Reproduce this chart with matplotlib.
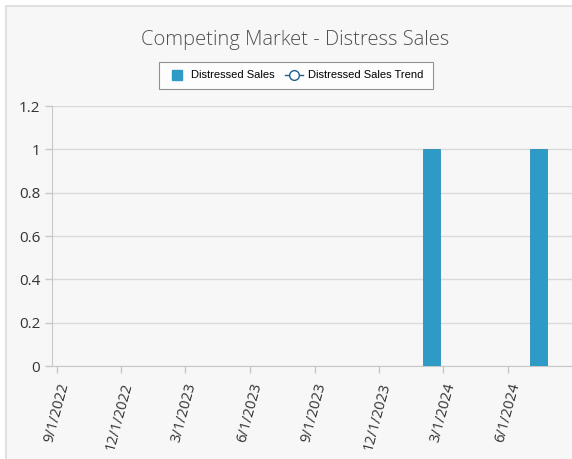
import pandas as pd
import matplotlib.pyplot as plt
from matplotlib.patches import Rectangle
from matplotlib.lines import Line2D

# Monthly data
months = ['2022-09', '2022-10', '2022-11', '2022-12', '2023-01', '2023-02',
          '2023-03', '2023-04', '2023-05', '2023-06', '2023-07', '2023-08',
          '2023-09', '2023-10', '2023-11', '2023-12', '2024-01', '2024-02',
          '2024-03', '2024-04', '2024-05', '2024-06', '2024-07', '2024-08']
distressed_sales = [0, 0, 0, 0, 0, 0, 0, 0, 0, 0, 0, 0,
                    0, 0, 0, 0, 0, 1, 0, 0, 0, 0, 1, 0]
tick_dates = ['2022-09-01', '2022-12-01', '2023-03-01', '2023-06-01',
              '2023-09-01', '2023-12-01', '2024-03-01', '2024-06-01']
tick_labels = ['9/1/2022', '12/1/2022', '3/1/2023', '6/1/2023',
               '9/1/2023', '12/1/2023', '3/1/2024', '6/1/2024']
y_ticks = [0, 0.2, 0.4, 0.6, 0.8, 1, 1.2]
y_labels = ['0', '0.2', '0.4', '0.6', '0.8', '1', '1.2']

bg = '#f7f7f7'
bar_color = '#2e9bc6'
tick_font = 'Open Sans'

fig = plt.figure(figsize=(5.72, 4.59), dpi=100, facecolor='white')
# panel background with border
fig.patches.append(Rectangle((6 / 572, -0.1), 1.1, (459 - 6) / 459 + 0.1,
                             transform=fig.transFigure, facecolor=bg,
                             edgecolor='#dcdcdc', linewidth=1.2, zorder=-10))

ax = fig.add_axes([52 / 572, 93 / 459, 1 - 52 / 572, 260 / 459])
ax.set_facecolor(bg)
ax.set_zorder(1)

x = pd.to_datetime(months)
ax.bar(x, distressed_sales, width=24, align='edge', color=bar_color,
       edgecolor='#2a8fb8', linewidth=0.6, zorder=3)

ax.set_xlim(pd.Timestamp('2022-08-25'), pd.Timestamp('2024-08-30'))
ax.set_ylim(0, 1.2)

ax.set_yticks(y_ticks)
ax.set_yticklabels(y_labels, fontsize=11, color='#333333', family=tick_font)
ax.yaxis.grid(True, color='#d9d9d9', linewidth=1, zorder=0)

ax.set_xticks(pd.to_datetime(tick_dates))
ax.set_xticklabels(tick_labels, rotation=75, ha='right', va='top',
                   rotation_mode='anchor', fontsize=10.5, color='#333333',
                   family=tick_font)

for side in ['top', 'right']:
    ax.spines[side].set_visible(False)
for side in ['left', 'bottom']:
    ax.spines[side].set_color('#c8c8c8')
ax.tick_params(axis='both', colors='#c8c8c8', length=5, width=1,
               labelcolor='#333333')
ax.tick_params(axis='x', pad=6)

fig.text(0.516, 0.913, 'Competing Market - Distress Sales', ha='center',
         va='center', fontsize=14.5, color='#505050', family='Open Sans',
         fontweight='light')

handles = [Line2D([], [], linestyle='none', marker='s', markersize=7.5,
                  markerfacecolor=bar_color, markeredgecolor=bar_color),
           Line2D([], [], color='#1f5f8b', linewidth=1, marker='o',
                  markersize=7, markerfacecolor='white',
                  markeredgecolor='#1f5f8b')]
leg = fig.legend(handles, ['Distressed Sales', 'Distressed Sales Trend'],
                 loc='center', bbox_to_anchor=(296 / 572, 1 - 75.5 / 459),
                 ncol=2, frameon=True, fancybox=False, borderpad=0.8,
                 edgecolor='#777777', facecolor='white', handlelength=1.6,
                 columnspacing=0.9, handletextpad=0.5,
                 prop={'family': 'Liberation Sans', 'size': 8})
leg.get_frame().set_linewidth(0.8)

fig.savefig('out.png', dpi=100, facecolor=fig.get_facecolor())
